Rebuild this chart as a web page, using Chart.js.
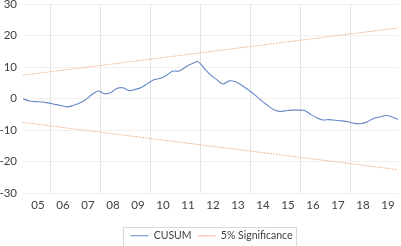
<!DOCTYPE html>
<html>
<head>
<meta charset="utf-8">
<script src="https://cdn.jsdelivr.net/npm/chart.js@4"></script>
<style>
  body { margin: 0; background: #fff; }
  #caja { width: 401px; height: 246px; }
</style>
</head>
<body>
<div id="caja"><canvas id="grafica" width="401" height="246"></canvas></div>
<script>
// etiquetas de años (eje x) y ticks del eje y
const etiquetasAnios = ['05','06','07','08','09','10','11','12','13','14','15','16','17','18','19'];
const ticksY = [-30, -20, -10, 0, 10, 20, 30];

// CUSUM trimestral
const inicio = 2004.9;
const paso = 0.25;
const valoresCusum = [
  -0.1, -0.8, -1.0, -1.1, -1.4, -1.8, -2.2, -2.65, -2.2, -1.5,
  -0.4, 1.2, 2.4, 1.5, 1.8, 3.2, 3.4, 2.5, 2.9, 3.6,
  4.8, 6.0, 6.4, 7.4, 8.7, 8.7, 10.0, 11.0, 11.7, 9.6,
  7.5, 6.0, 4.6, 5.6, 5.3, 4.2, 2.8, 1.3, -0.4, -2.0,
  -3.4, -4.1, -3.9, -3.7, -3.7, -3.8, -5.0, -6.1, -6.8, -6.7,
  -6.9, -7.1, -7.4, -7.9, -8.0, -7.5, -6.4, -5.9, -5.4, -5.8,
  -6.7
];

// bandas del 5% (inicio y fin)
const bandaSuperior = [7.4, 22.4];
const bandaInferior = [-7.6, -22.6];

const datosCusum = valoresCusum.map((v, i) => ({ x: inicio + i * paso, y: v }));
const fin = inicio + (valoresCusum.length - 1) * paso;
const datosSup = [{ x: inicio, y: bandaSuperior[0] }, { x: fin, y: bandaSuperior[1] }];
const datosInf = [{ x: inicio, y: bandaInferior[0] }, { x: fin, y: bandaInferior[1] }];

const primerAnio = 2005;
const posicionesEtiquetas = etiquetasAnios.map((e, i) => primerAnio + i + 0.5);
const lineasVerticales = [];
for (let a = primerAnio + 1; a < fin; a += 2) lineasVerticales.push(a);

// la leyenda va centrada sobre el área del gráfico y con un marco
const desplazamiento = 25;
const cajaLeyenda = {
  id: 'cajaLeyenda',
  afterLayout(chart) {
    chart.legend.left += desplazamiento;
    chart.legend.legendHitBoxes.forEach(c => { c.left += desplazamiento / 2; });
  },
  afterDraw(chart) {
    const cajas = chart.legend.legendHitBoxes;
    if (!cajas || !cajas.length) return;
    const x1 = Math.min(...cajas.map(c => c.left)) - 7;
    const x2 = Math.max(...cajas.map(c => c.left + c.width)) + 4;
    const y1 = Math.min(...cajas.map(c => c.top)) - 4;
    const y2 = chart.height + 2;
    const ctx = chart.ctx;
    ctx.save();
    ctx.strokeStyle = '#d9d9d9';
    ctx.lineWidth = 1;
    ctx.strokeRect(Math.round(x1) + 0.5, Math.round(y1) + 0.5, Math.round(x2 - x1), Math.round(y2 - y1));
    ctx.restore();
  }
};

const fuente = { family: 'Lato', size: 11.5 };
const naranja = '#f4b994';

new Chart(document.querySelector('#grafica'), {
  type: 'line',
  data: {
    datasets: [
      {
        label: 'CUSUM',
        data: datosCusum,
        borderColor: '#6588c6',
        backgroundColor: '#6588c6',
        borderWidth: 1.1,
        pointRadius: 0,
        tension: 0.35
      },
      {
        label: '5% Significance',
        data: datosSup,
        borderColor: naranja,
        backgroundColor: naranja,
        borderWidth: 1,
        borderDash: [2, 1],
        pointRadius: 0
      },
      {
        label: '5% Significance (inf)',
        data: datosInf,
        borderColor: naranja,
        backgroundColor: naranja,
        borderWidth: 1,
        borderDash: [2, 1],
        pointRadius: 0
      }
    ]
  },
  options: {
    responsive: false,
    animation: false,
    layout: { padding: { left: 0, right: 3, top: 4, bottom: -5 } },
    plugins: {
      tooltip: { enabled: false },
      legend: {
        position: 'bottom',
        labels: {
          color: '#404040',
          font: { family: 'Lato', size: 10.5 },
          usePointStyle: true,
          pointStyleWidth: 18,
          pointStyle: 'line',
          boxHeight: 11,
          padding: 6,
          filter: item => item.datasetIndex < 2
        }
      }
    },
    scales: {
      x: {
        type: 'linear',
        min: inicio,
        max: fin,
        afterBuildTicks: escala => {
          const valores = [...posicionesEtiquetas, ...lineasVerticales].sort((a, b) => a - b);
          escala.ticks = valores.map(v => ({ value: v }));
        },
        afterFit: escala => { escala.height = 31.5; },
        ticks: {
          autoSkip: false,
          maxRotation: 0,
          padding: 5,
          color: '#404040',
          font: fuente,
          callback: v => {
            const i = posicionesEtiquetas.indexOf(v);
            return i >= 0 ? etiquetasAnios[i] : '';
          }
        },
        grid: {
          drawTicks: false,
          color: ctx => (ctx.tick && lineasVerticales.includes(ctx.tick.value)) ? '#e3e3e3' : 'rgba(0,0,0,0)',
          lineWidth: 1
        },
        border: { display: false }
      },
      y: {
        min: -30,
        max: 30,
        afterBuildTicks: escala => { escala.ticks = ticksY.map(v => ({ value: v })); },
        afterFit: escala => { escala.width = 23; escala.paddingTop = 0; escala.paddingBottom = 0; },
        ticks: {
          padding: 6,
          color: '#404040',
          font: fuente
        },
        grid: {
          drawTicks: false,
          color: '#f5efec',
          lineWidth: 1
        },
        border: { display: false }
      }
    }
  },
  plugins: [cajaLeyenda]
});
</script>
</body>
</html>
